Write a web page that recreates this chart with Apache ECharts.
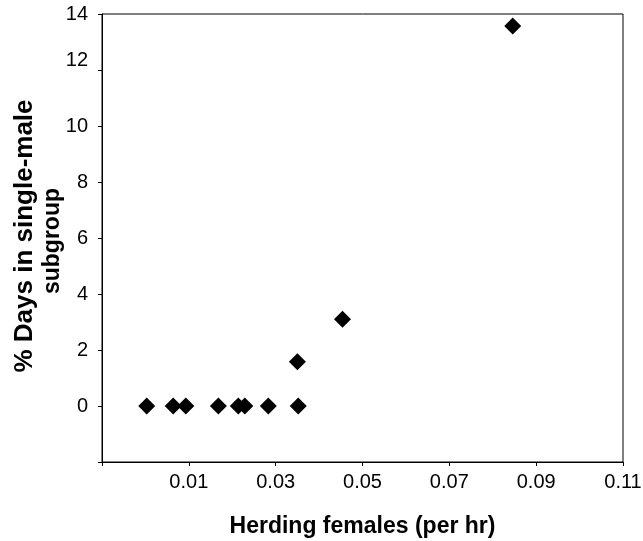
<!DOCTYPE html>
<html>
<head>
<meta charset="utf-8">
<script src="https://cdn.jsdelivr.net/npm/echarts@6/dist/echarts.min.js"></script>
<style>
html,body{margin:0;padding:0;background:#fff;}
#chart{width:643px;height:541px;}
</style>
</head>
<body>
<div id="chart"></div>
<script>
// Data
const herdingRate = [0.0003, 0.0064, 0.0093, 0.0168, 0.0214, 0.0229, 0.0283, 0.0352, 0.0350, 0.0454, 0.0846];
const pctDaysSingleMale = [0, 0, 0, 0, 0, 0, 0, 0, 1.58, 3.1, 13.57];
const xTicks = [0.01, 0.03, 0.05, 0.07, 0.09, 0.11];
const yTicks = [0, 2, 4, 6, 8, 10, 12, 14];
const xTitle = 'Herding females (per hr)';
const yTitleLine1 = '% Days in single-male';
const yTitleLine2 = 'subgroup';

const points = herdingRate.map((x, i) => [x, pctDaysSingleMale[i]]);
const font = 'Liberation Sans, Arial, Helvetica, sans-serif';

const chart = echarts.init(document.getElementById('chart'), null, {renderer: 'canvas'});
chart.setOption({
  animation: false,
  backgroundColor: '#fff',
  grid: {left: 102, right: 20, top: 14, bottom: 79, show: true, borderColor: '#000', borderWidth: 1,
         containLabel: false, outerBoundsMode: 'none'},
  graphic: [
    {type: 'text', x: 25, y: 236, rotation: Math.PI / 2,
     style: {text: yTitleLine1, font: 'bold 26px ' + font, fill: '#000', align: 'center', verticalAlign: 'middle'}},
    {type: 'text', x: 53, y: 241, rotation: Math.PI / 2,
     style: {text: yTitleLine2, font: 'bold 23px ' + font, fill: '#000', align: 'center', verticalAlign: 'middle'}}
  ],
  xAxis: {
    type: 'value', min: -0.01, max: 0.11, interval: 0.02,
    name: xTitle, nameLocation: 'middle', nameGap: 53,
    nameTextStyle: {fontFamily: font, fontSize: 23, fontWeight: 'bold', color: '#000'},
    axisLine: {show: true, onZero: false, lineStyle: {color: '#000', width: 1}},
    axisTick: {show: true, length: 4, lineStyle: {color: '#000'}},
    axisLabel: {
      margin: 10, fontFamily: font, fontSize: 20, color: '#000',
      formatter: v => {
        const r = Math.round(v * 100) / 100;
        return xTicks.some(t => Math.abs(t - r) < 1e-9) ? r.toFixed(2) : '';
      }
    },
    splitLine: {show: false}
  },
  yAxis: {
    type: 'value', min: -2, max: 14, interval: 2,
    axisLine: {show: true, onZero: false, lineStyle: {color: '#000', width: 1}},
    axisTick: {show: true, length: 4, lineStyle: {color: '#000'}},
    axisLabel: {
      margin: 14, fontFamily: font, fontSize: 20, color: '#000',
      formatter: v => {
        const r = Math.round(v);
        if (!yTicks.includes(r)) return '';
        return r === 12 ? '{up|12}' : String(r);
      },
      rich: {up: {fontFamily: font, fontSize: 20, color: '#000', padding: [0, 0, 20, 0]}}
    },
    splitLine: {show: false}
  },
  series: [{
    type: 'scatter',
    data: points,
    symbol: 'diamond',
    symbolSize: [17, 17],
    itemStyle: {color: '#000', opacity: 1}
  }]
});
</script>
</body>
</html>
